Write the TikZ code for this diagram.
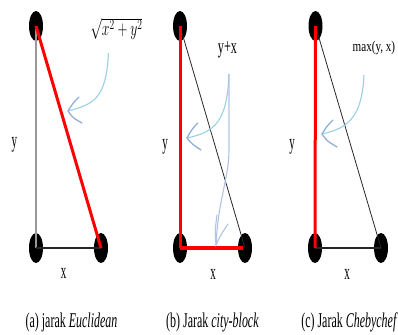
\documentclass[tikz,border=0pt]{standalone}
\usepackage{fontspec}
\setmainfont{Liberation Serif}
\usepackage{graphicx}
\usetikzlibrary{shapes.geometric}
\newcommand\sqz[2]{\scalebox{#1}[1]{#2}}
\definecolor{curvecol}{RGB}{155,208,226}
\definecolor{headcol}{RGB}{145,175,218}
\definecolor{vertcol}{RGB}{175,195,228}
\begin{document}
\begin{tikzpicture}[x=1pt,y=-1pt,
  dot/.style={ellipse, fill=black, minimum width=14pt, minimum height=30pt, inner sep=0pt},
  redline/.style={red, line width=3pt},
  redthick/.style={red, line width=4.5pt},
  grayline/.style={gray!80, line width=1.3pt},
  blackline/.style={black!85, line width=1.5pt},
  thinline/.style={black!85, line width=0.8pt},
  curvestyle/.style={curvecol, line width=1.1pt},
  headstyle/.style={headcol, line width=1.3pt, line cap=round},
  vcurve/.style={vertcol, line width=1.1pt},
  lab/.style={inner sep=0pt, font=\fontsize{22}{24}\selectfont},
  captext/.style={inner sep=0pt, font=\fontsize{21}{24}\selectfont},
  notetext/.style={inner sep=0pt, font=\fontsize{21}{24}\selectfont}]
\useasboundingbox (0,0) rectangle (398,334);

% dots
\node[dot] (a1) at (36,26) {};
\node[dot] (a2) at (36,248) {};
\node[dot] (a3) at (101,248) {};
\node[dot] (b1) at (180,26) {};
\node[dot] (b2) at (180,248) {};
\node[dot] (b3) at (245,248) {};
\node[dot] (c1) at (315.5,26) {};
\node[dot] (c2) at (315,248) {};
\node[dot] (c3) at (381,248) {};

% panel (a)
\draw[grayline] (a1.center) -- (a2.center);
\draw[blackline] (a2.center) -- (a3.center);
\draw[redline] (a1.center) -- (a3.center);

% panel (b)
\draw[thinline] (b1.center) -- (b3.center);
\draw[redline] (b1.center) -- (b2.center);
\draw[redthick] (b2.center) -- ([xshift=-2pt]b3.center);

% panel (c)
\draw[thinline] (c1.center) -- (c3.center);
\draw[blackline] (c2.center) -- (c3.center);
\draw[redline] (c1.center) -- (c2.center);

% labels
\node[lab] (ya) at (14.5,145) {\sqz{0.5}{y}};
\node[lab] (xa) at (63.5,273.5) {\sqz{0.5}{x}};
\node[lab] (yb) at (165,147) {\sqz{0.5}{y}};
\node[lab] (xb) at (213,274.5) {\sqz{0.5}{x}};
\node[lab] (yc) at (292,147) {\sqz{0.5}{y}};
\node[lab] (xc) at (347,274.5) {\sqz{0.5}{x}};

\node[inner sep=0pt, font=\fontsize{20.5}{22}\selectfont] (sa) at (116.5,28.5) {\sqz{0.66}{$\sqrt{x^2+y^2}$}};
\node[notetext] (sb) at (227.5,50) {\sqz{0.58}{y+x}};
\node[inner sep=0pt, anchor=west, font=\fontsize{15}{18}\selectfont] (sc) at (352.5,48) {\sqz{0.74}{max(y, x)}};

% captions
\node[captext] (ca) at (71.5,322.5) {\sqz{0.57}{(a) jarak \textit{Euclidean}}};
\node[captext] (cb) at (212.5,322.5) {\sqz{0.57}{(b) Jarak \textit{city-block}}};
\node[captext] (cc) at (349.5,322.5) {\sqz{0.57}{(c) Jarak \textit{Chebychef}}};

% arrows (a)
\draw[curvestyle] (108.5,53) .. controls (106,98) and (95,104) .. (68,111);
\draw[headstyle] (79,97) .. controls (73,103) .. (68,111) .. controls (73,118) .. (82,123);

% arrows (b)
\draw[curvestyle] (229,74) .. controls (227,122) and (215,132) .. (187,138);
\draw[headstyle] (198,123) .. controls (192,129) .. (187,138) .. controls (192,144) .. (201,150);
\draw[vcurve] (229,74) -- (229,150) .. controls (229,178) and (218,200) .. (216,245);
\draw[vcurve, line cap=round] (217,215) .. controls (215,230) .. (216,245) .. controls (220,236) .. (228,224);

% arrows (c)
\draw[curvestyle] (364,75) .. controls (362,115) and (350,128) .. (322,134);
\draw[headstyle] (333,120) .. controls (327,126) .. (322,134) .. controls (327,141) .. (337,147);
\end{tikzpicture}
\end{document}
